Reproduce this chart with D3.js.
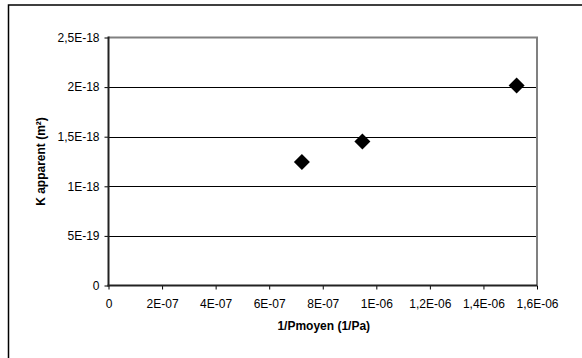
<!DOCTYPE html>
<html>
<head>
<meta charset="utf-8">
<script src="https://cdn.jsdelivr.net/npm/d3@7"></script>
<style>
  html, body { margin: 0; padding: 0; background: #fff; }
  svg { display: block; font-family: "Liberation Sans", Arial, sans-serif; }
</style>
</head>
<body>
<svg id="chart" width="582" height="358"></svg>
<script>
// Data
const xValues = [7.22e-7, 9.48e-7, 1.524e-6];
const yValues = [1.245e-18, 1.452e-18, 2.015e-18];
const xTicks = [0, 2e-7, 4e-7, 6e-7, 8e-7, 1e-6, 1.2e-6, 1.4e-6, 1.6e-6];
const xTickLabels = ["0", "2E-07", "4E-07", "6E-07", "8E-07", "1E-06", "1,2E-06", "1,4E-06", "1,6E-06"];
const yTicks = [0, 5e-19, 1e-18, 1.5e-18, 2e-18, 2.5e-18];
const yTickLabels = ["0", "5E-19", "1E-18", "1,5E-18", "2E-18", "2,5E-18"];
const xTitle = "1/Pmoyen (1/Pa)";
const yTitle = "K apparent (m²)";

(function () {
const svg = d3.select("#chart");
const pL = 108.5, pR = 537, pT = 37.5, pB = 285.5;
const FS = 12;

const x = d3.scaleLinear().domain([0, 1.6e-6]).range([pL, pR]);
const y = d3.scaleLinear().domain([0, 2.5e-18]).range([pB, pT]);

// outer frame (cropped on right and bottom)
svg.append("path")
  .attr("d", `M8.5,358 L8.5,5 L582,5`)
  .attr("fill", "none").attr("stroke", "#000").attr("stroke-width", 1.5);

// gridlines
svg.append("g").selectAll("line")
  .data(yTicks.filter(d => d > 0 && d < 2.5e-18))
  .join("line")
  .attr("x1", pL).attr("x2", pR)
  .attr("y1", d => Math.round(y(d)) + 0.5).attr("y2", d => Math.round(y(d)) + 0.5)
  .attr("stroke", "#000").attr("stroke-width", 1);

// plot area top and right border (gray)
svg.append("path")
  .attr("d", `M${pL},${pT} L${pR},${pT} L${pR},${pB}`)
  .attr("fill", "none").attr("stroke", "#808080").attr("stroke-width", 2);

// Y axis
const yAxis = d3.axisLeft(y).tickValues(yTicks)
  .tickFormat((d, i) => yTickLabels[i]).tickSize(4).tickPadding(5);
const gy = svg.append("g").attr("transform", `translate(${pL},0)`).call(yAxis);
gy.select(".domain").remove();
gy.selectAll(".tick line").attr("stroke", "#000");
gy.selectAll(".tick text").attr("font-size", FS).attr("fill", "#000")
  .attr("font-family", "Liberation Sans, Arial, sans-serif");

// X axis
const xAxis = d3.axisBottom(x).tickValues(xTicks)
  .tickFormat((d, i) => xTickLabels[i]).tickSize(4).tickPadding(10);
const gx = svg.append("g").attr("transform", `translate(0,${pB})`).call(xAxis);
gx.select(".domain").remove();
gx.selectAll(".tick line").attr("stroke", "#000");
gx.selectAll(".tick text").attr("font-size", FS).attr("fill", "#000")
  .attr("font-family", "Liberation Sans, Arial, sans-serif");

// axis lines (dark)
svg.append("line").attr("x1", pL).attr("x2", pL).attr("y1", pT - 1).attr("y2", pB + 1)
  .attr("stroke", "#222").attr("stroke-width", 2);
svg.append("line").attr("x1", pL - 1).attr("x2", pR).attr("y1", pB).attr("y2", pB)
  .attr("stroke", "#222").attr("stroke-width", 2);

// markers
svg.append("g").selectAll("path")
  .data(xValues.map((d, i) => [d, yValues[i]]))
  .join("path")
  .attr("transform", d => `translate(${x(d[0])},${y(d[1])})`)
  .attr("d", "M0,-8 L8,0 L0,8 L-8,0 Z")
  .attr("fill", "#000");

// titles
svg.append("text")
  .attr("x", (pL + pR) / 2 + 1).attr("y", 330)
  .attr("text-anchor", "middle").attr("font-size", FS).attr("font-weight", "bold")
  .text(xTitle);

svg.append("text")
  .attr("transform", `translate(45,${(pT + pB) / 2}) rotate(-90)`)
  .attr("text-anchor", "middle").attr("font-size", FS).attr("font-weight", "bold")
  .text(yTitle);
})();
</script>
</body>
</html>
